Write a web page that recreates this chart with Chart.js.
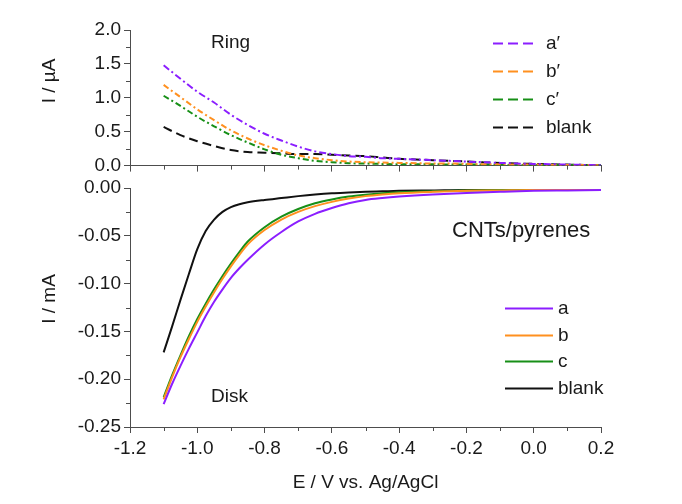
<!DOCTYPE html>
<html>
<head>
<meta charset="utf-8">
<title>RRDE ring / disk currents</title>
<script src="https://cdn.jsdelivr.net/npm/chart.js@4/dist/chart.umd.min.js"></script>
<style>
  html, body { margin: 0; padding: 0; background: #fff; }
  #wrap { position: relative; width: 682px; height: 504px; }
  #ring-canvas { position: absolute; left: 0; top: 0; }
  #disk-canvas { position: absolute; left: 0; top: 170px; }
</style>
</head>
<body>
<div id="wrap">
  <canvas id="ring-canvas" width="682" height="180"></canvas>
  <canvas id="disk-canvas" width="682" height="334"></canvas>
</div>
<script>
/* RRDE: ring current (top) and disk current (bottom) vs potential */

// ring panel, I / uA
const ringPotential = [-1.1, -1.05, -1.0, -0.95, -0.9, -0.85, -0.8, -0.75, -0.7, -0.65, -0.6, -0.55, -0.5,
    -0.45, -0.4, -0.35, -0.3, -0.25, -0.2, -0.15, -0.1, -0.05, 0, 0.05, 0.1, 0.15, 0.2];
const ringA = [1.48, 1.28, 1.09, 0.93, 0.75, 0.60, 0.47, 0.37, 0.28, 0.21, 0.17, 0.14, 0.13,
    0.11, 0.10, 0.09, 0.08, 0.07, 0.06, 0.05, 0.04, 0.03, 0.025, 0.02, 0.015, 0.01, 0.005];
const ringB = [1.19, 1.01, 0.83, 0.67, 0.52, 0.40, 0.30, 0.22, 0.15, 0.11, 0.08, 0.06, 0.05,
    0.045, 0.04, 0.035, 0.03, 0.03, 0.025, 0.02, 0.02, 0.015, 0.015, 0.01, 0.01, 0.008, 0.005];
const ringC = [1.03, 0.88, 0.72, 0.58, 0.45, 0.34, 0.24, 0.16, 0.11, 0.07, 0.05, 0.035, 0.03,
    0.025, 0.02, 0.02, 0.02, 0.015, 0.015, 0.015, 0.01, 0.01, 0.01, 0.01, 0.008, 0.006, 0.005];
const ringBlank = [0.57, 0.45, 0.36, 0.29, 0.23, 0.20, 0.19, 0.18, 0.17, 0.17, 0.16, 0.15, 0.14,
    0.12, 0.10, 0.09, 0.08, 0.07, 0.06, 0.05, 0.04, 0.03, 0.025, 0.02, 0.015, 0.01, 0.005];
const ringLabels = ['a\u2032', 'b\u2032', 'c\u2032', 'blank'];

// disk panel, I / mA
const diskPotential = [-1.1, -1.075, -1.05, -1.025, -1.0, -0.975, -0.95, -0.925, -0.9, -0.875, -0.85,
    -0.8, -0.75, -0.7, -0.65, -0.6, -0.55, -0.5, -0.45, -0.4, -0.3, -0.2, -0.1, 0, 0.1, 0.2];
const diskA = [-0.226, -0.205, -0.186, -0.168, -0.151, -0.134, -0.119, -0.106, -0.094, -0.084, -0.075,
    -0.059, -0.046, -0.035, -0.027, -0.021, -0.016, -0.0125, -0.0105, -0.009, -0.0068, -0.0052, -0.004, -0.003, -0.0025, -0.002];
const diskB = [-0.221, -0.198, -0.177, -0.158, -0.140, -0.124, -0.109, -0.095, -0.082, -0.070, -0.059,
    -0.044, -0.033, -0.025, -0.019, -0.0145, -0.011, -0.0085, -0.0068, -0.0055, -0.004, -0.003, -0.0025, -0.002, -0.002, -0.002];
const diskC = [-0.219, -0.196, -0.175, -0.155, -0.137, -0.121, -0.106, -0.092, -0.079, -0.067, -0.056,
    -0.041, -0.030, -0.022, -0.016, -0.012, -0.009, -0.007, -0.0055, -0.0045, -0.0033, -0.0026, -0.0022, -0.002, -0.002, -0.002];
const diskBlank = [-0.172, -0.145, -0.117, -0.090, -0.064, -0.045, -0.033, -0.025, -0.020, -0.017, -0.015,
    -0.0125, -0.0105, -0.0085, -0.0068, -0.0055, -0.0047, -0.004, -0.0035, -0.003, -0.0025, -0.002, -0.002, -0.002, -0.002, -0.002];
const diskLabels = ['a', 'b', 'c', 'blank'];

// tick values
const potentialTicks = [-1.2, -1.0, -0.8, -0.6, -0.4, -0.2, 0.0, 0.2];
const ringTicks = [0, 0.5, 1.0, 1.5, 2.0];
const diskTicks = [-0.25, -0.20, -0.15, -0.10, -0.05, 0.00];

const FONT = "'Liberation Sans', Arial, sans-serif";
const TEXT_COLOR = '#1a1a1a';
const AXIS_COLOR = '#4d4d4d';
const PURPLE = '#8b1eff';
const ORANGE = '#ff901f';
const GREEN = '#178f17';
const BLACK = '#111111';

function series(label, xs, ys, color, dash) {
    return {
        label: label,
        data: xs.map((x, i) => ({ x: x, y: ys[i] })),
        borderColor: color,
        borderWidth: 2,
        borderDash: dash,
        pointRadius: 0,
        fill: false,
        cubicInterpolationMode: 'monotone'
    };
}

function useTicks(values) {
    return scale => { scale.ticks = values.map(v => ({ value: v })); };
}

// short unlabeled ticks halfway between the major ones
const minorTicks = {
    id: 'minorTicks',
    afterDraw(chart) {
        const ctx = chart.ctx;
        ctx.save();
        ctx.strokeStyle = AXIS_COLOR;
        ctx.lineWidth = 1;
        Object.values(chart.scales).forEach(scale => {
            const t = scale.ticks;
            for (let i = 0; i < t.length - 1; i++) {
                const p = Math.round(scale.getPixelForValue((t[i].value + t[i + 1].value) / 2)) + 0.5;
                ctx.beginPath();
                if (scale.isHorizontal()) {
                    ctx.moveTo(p, scale.top);
                    ctx.lineTo(p, scale.top + 4);
                } else {
                    ctx.moveTo(scale.right - 4, p);
                    ctx.lineTo(scale.right, p);
                }
                ctx.stroke();
            }
        });
        ctx.restore();
    }
};

// free-floating labels, axis titles and the legend
const panelText = {
    id: 'panelText',
    afterDraw(chart, args, opts) {
        const ctx = chart.ctx;
        ctx.save();
        ctx.fillStyle = TEXT_COLOR;
        ctx.textBaseline = 'middle';
        (opts.notes || []).forEach(n => {
            ctx.save();
            ctx.font = n.size + 'px ' + FONT;
            ctx.translate(n.x, n.y);
            if (n.rotate) ctx.rotate(-Math.PI / 2);
            ctx.textAlign = n.align || 'left';
            ctx.fillText(n.text, 0, 0);
            ctx.restore();
        });
        const lg = opts.legend;
        if (lg) {
            ctx.font = lg.size + 'px ' + FONT;
            ctx.textAlign = 'left';
            chart.data.datasets.forEach((ds, i) => {
                const y = Math.round(lg.y + i * lg.gap) + 0.5;
                ctx.strokeStyle = ds.borderColor;
                ctx.lineWidth = 2;
                ctx.setLineDash(lg.dash || []);
                ctx.beginPath();
                ctx.moveTo(lg.x0, y);
                ctx.lineTo(lg.x1, y);
                ctx.stroke();
                ctx.fillText(ds.label, lg.x1 + lg.textGap, y);
            });
        }
        ctx.restore();
    }
};

function xAxis(showLabels, height) {
    return {
        type: 'linear',
        min: -1.2,
        max: 0.2,
        afterBuildTicks: useTicks(potentialTicks),
        afterFit: s => { s.height = height; },
        grid: { drawOnChartArea: false, tickLength: 6, color: AXIS_COLOR },
        border: { display: true, color: AXIS_COLOR },
        ticks: {
            display: showLabels,
            color: TEXT_COLOR,
            padding: 4,
            maxRotation: 0,
            font: { family: FONT, size: 19 },
            callback: v => v.toFixed(1)
        },
        title: {
            display: showLabels,
            text: 'E / V vs. Ag/AgCl',
            color: TEXT_COLOR,
            font: { family: FONT, size: 19 },
            padding: { top: 0, bottom: 10 }
        }
    };
}

function yAxis(min, max, ticks, digits) {
    return {
        min: min,
        max: max,
        afterBuildTicks: useTicks(ticks),
        afterFit: s => { s.width = 130; },
        grid: { drawOnChartArea: false, tickLength: 6, color: AXIS_COLOR },
        border: { display: true, color: AXIS_COLOR },
        ticks: {
            color: TEXT_COLOR,
            padding: 3,
            font: { family: FONT, size: 19 },
            callback: v => v.toFixed(digits)
        }
    };
}

new Chart(document.getElementById('ring-canvas'), {
    type: 'line',
    data: {
        datasets: [
            series(ringLabels[0], ringPotential, ringA, PURPLE, [7, 3, 2, 3]),
            series(ringLabels[1], ringPotential, ringB, ORANGE, [6, 3, 2, 3]),
            series(ringLabels[2], ringPotential, ringC, GREEN, [6, 3, 2, 3]),
            series(ringLabels[3], ringPotential, ringBlank, BLACK, [9, 5])
        ]
    },
    options: {
        responsive: false,
        animation: false,
        layout: { padding: { left: 0, right: 81, top: 30, bottom: 0 } },
        plugins: {
            legend: { display: false },
            tooltip: { enabled: false },
            panelText: {
                notes: [
                    { text: 'I / \u00b5A', x: 50, y: 81, size: 19, rotate: true, align: 'center' },
                    { text: 'Ring', x: 211, y: 43, size: 19 }
                ],
                legend: { x0: 493, x1: 535, textGap: 11, y: 43, gap: 28, size: 19, dash: [10, 5] }
            }
        },
        scales: {
            x: xAxis(false, 14),
            y: yAxis(0, 2, ringTicks, 1)
        }
    },
    plugins: [minorTicks, panelText]
});

new Chart(document.getElementById('disk-canvas'), {
    type: 'line',
    data: {
        datasets: [
            series(diskLabels[0], diskPotential, diskA, PURPLE, []),
            series(diskLabels[1], diskPotential, diskB, ORANGE, []),
            series(diskLabels[2], diskPotential, diskC, GREEN, []),
            series(diskLabels[3], diskPotential, diskBlank, BLACK, [])
        ]
    },
    options: {
        responsive: false,
        animation: false,
        layout: { padding: { left: 0, right: 81, top: 18, bottom: 0 } },
        plugins: {
            legend: { display: false },
            tooltip: { enabled: false },
            panelText: {
                notes: [
                    { text: 'I / mA', x: 50, y: 129, size: 19, rotate: true, align: 'center' },
                    { text: 'CNTs/pyrenes', x: 452, y: 61, size: 22 },
                    { text: 'Disk', x: 211, y: 227, size: 19 }
                ],
                legend: { x0: 505, x1: 553, textGap: 5, y: 138, gap: 26.5, size: 19 }
            }
        },
        scales: {
            x: xAxis(true, 77),
            y: yAxis(-0.25, 0, diskTicks, 2)
        }
    },
    plugins: [minorTicks, panelText]
});
</script>
</body>
</html>
